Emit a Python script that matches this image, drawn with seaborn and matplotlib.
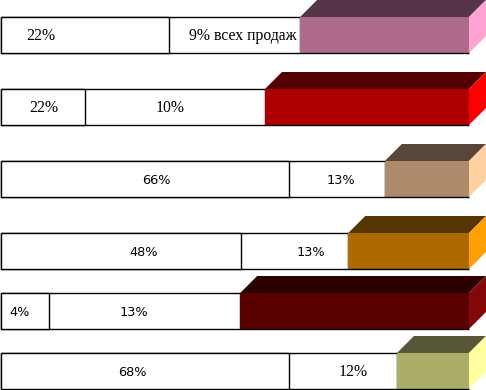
import numpy as np
import pandas as pd
import matplotlib
matplotlib.use("Agg")
import matplotlib.pyplot as plt
from matplotlib.patches import Polygon
import seaborn as sns

# ---------------- data ----------------
rows = ["r1", "r2", "r3", "r4", "r5", "r6"]
seg1 = [35.9, 17.9, 61.5, 51.3, 10.3, 61.5]
seg2 = [28.0, 38.5, 20.5, 22.9, 40.8, 23.1]
seg3 = [36.1, 43.6, 18.0, 25.8, 48.9, 15.4]
label1 = ["22%", "22%", "66%", "48%", "4%", "68%"]
label2 = ["9% всех продаж", "10%", "13%", "13%", "13%", "12%"]

# ---------------- style / layout ----------------
front_colors = ["#AD6A8A", "#AE0000", "#AD8A6A", "#AE6A00", "#5A0000", "#ADAD6A"]
top_colors = ["#553547", "#550000", "#574738", "#553500", "#2D0000", "#575737"]
side_colors = ["#FFA3D4", "#FF0000", "#FFD0A0", "#FFA000", "#840808", "#FFFFA0"]
row_center_px = [35, 107, 179, 251, 311, 371]
bar_h_px = 36
depth_px = 17
px_per_unit = 4.68
x0_px = 1
lab1_off_px = [-44, 1, 11, 23, -6, -13]
lab2_off_px = [8, -5, 4, 16, -11, 10]
serif_labels = {(0, 0), (0, 1), (1, 0), (1, 1), (5, 1)}

W, H = 486, 390
sns.set_theme(style="white")
fig = plt.figure(figsize=(W / 100, H / 100), dpi=100)
ax = fig.add_axes([0, 0, 1, 1])

df = pd.DataFrame({"row": rows, "s1": seg1, "s2": seg2, "s3": seg3})
df["c1"] = df["s1"]
df["c2"] = df["s1"] + df["s2"]
df["tot"] = df["c2"] + df["s3"]
df["y"] = row_center_px

width = bar_h_px / float(np.min(np.diff(sorted(row_center_px))))

# full-length coloured bars
sns.barplot(data=df, x="tot", y="y", orient="h", native_scale=True, hue="row",
            palette=front_colors, width=width, linewidth=0, legend=False,
            errorbar=None, ax=ax, zorder=1)
# white segments
sns.barplot(data=df, x="c2", y="y", orient="h", native_scale=True, color="white",
            saturation=1, width=width, edgecolor="black", linewidth=1,
            errorbar=None, ax=ax, zorder=2)
sns.barplot(data=df, x="c1", y="y", orient="h", native_scale=True, color="white",
            saturation=1, width=width, edgecolor="black", linewidth=1,
            errorbar=None, ax=ax, zorder=3)

ax.set_xlim(-x0_px / px_per_unit, (W - x0_px) / px_per_unit)
ax.set_ylim(H, 0)
ax.axis("off")

dx = depth_px / px_per_unit
dy = depth_px
half = bar_h_px / 2
for i in range(len(rows)):
    yc = row_center_px[i]
    top, bot = yc - half, yc + half
    xs, xe = df["c2"][i], df["tot"][i]
    # cover the black edge at coloured start
    ax.add_patch(Polygon([(xs, top), (xe, top), (xe, bot), (xs, bot)],
                         closed=True, facecolor=front_colors[i], edgecolor="none", zorder=4))
    ax.add_patch(Polygon([(xs, top), (xe, top), (xe + dx, top - dy), (xs + dx, top - dy)],
                         closed=True, facecolor=top_colors[i], edgecolor="none", zorder=4))
    ax.add_patch(Polygon([(xe, top), (xe + dx, top - dy), (xe + dx, bot - dy), (xe, bot)],
                         closed=True, facecolor=side_colors[i], edgecolor="none", zorder=4))
    ax.plot([xs, xe], [bot, bot], color="black", lw=1, zorder=5, solid_capstyle="butt")
    # labels
    for j, (lab, a, b, off) in enumerate([(label1[i], 0, df["c1"][i], lab1_off_px[i]),
                                           (label2[i], df["c1"][i], df["c2"][i], lab2_off_px[i])]):
        serif = (i, j) in serif_labels
        ax.text((a + b) / 2 + off / px_per_unit, yc + 1, lab, ha="center", va="center",
                fontsize=11.3 if serif else 9.3,
                family="Liberation Serif" if serif else "DejaVu Sans",
                color="black", zorder=6)

fig.savefig("out.png", dpi=100)
